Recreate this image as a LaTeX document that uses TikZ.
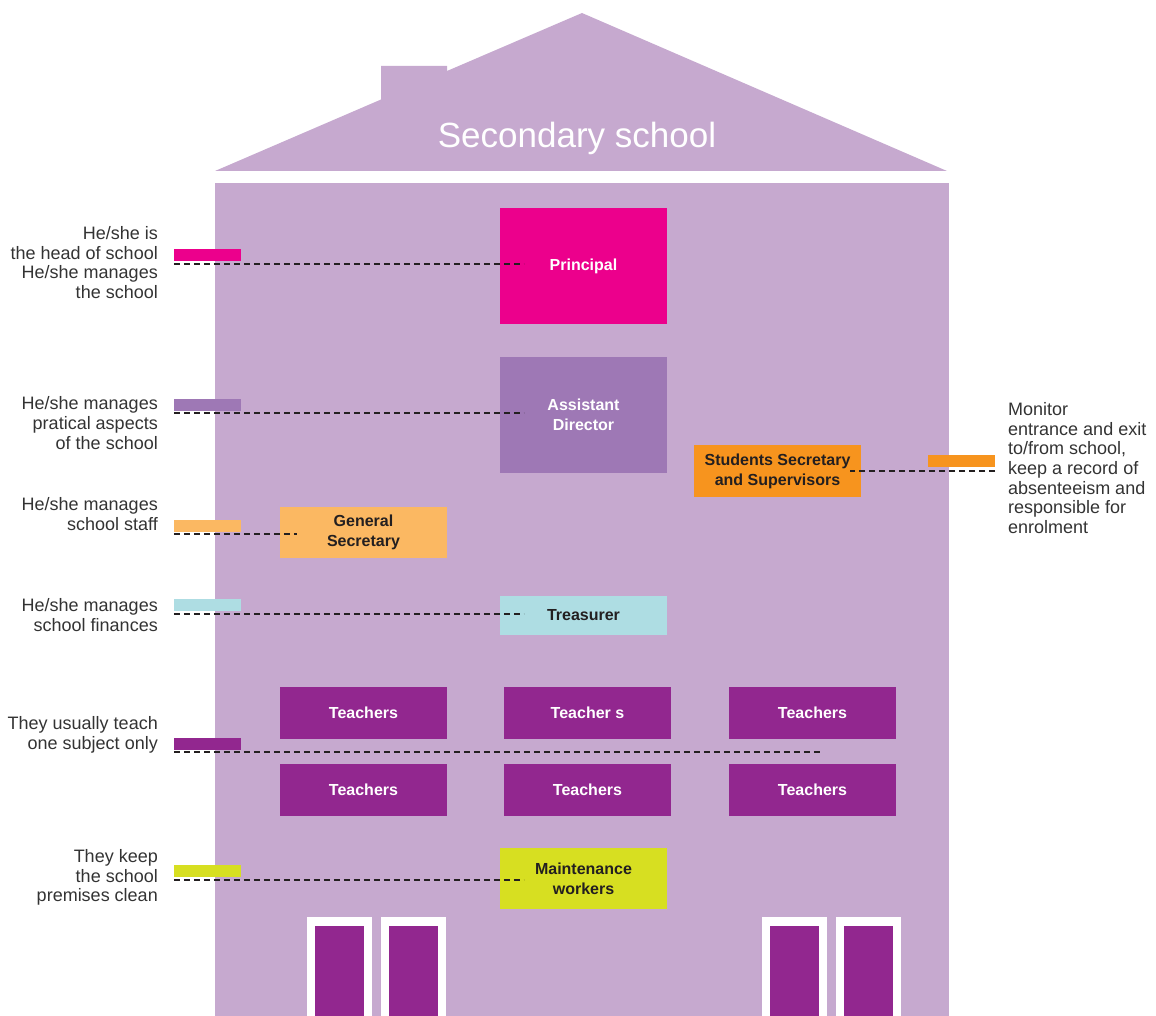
\documentclass[tikz,border=0pt]{standalone}
\usepackage{fontspec}
\setmainfont{Liberation Sans}
\usetikzlibrary{calc,positioning}

\definecolor{wall}{HTML}{C6A9CF}
\definecolor{ink}{HTML}{231F20}
\definecolor{notegray}{HTML}{333333}
\definecolor{principalc}{HTML}{EC008C}
\definecolor{assistantc}{HTML}{9E78B5}
\definecolor{studentsc}{HTML}{F7941E}
\definecolor{generalc}{HTML}{FBB862}
\definecolor{treasurerc}{HTML}{AEDDE3}
\definecolor{teacherc}{HTML}{92278F}
\definecolor{maintc}{HTML}{D7DF21}

\tikzset{
	office/.style={minimum width=167pt, inner sep=0pt, align=center, text=ink, font=\bfseries\fontsize{16}{20}\selectfont},
	tag/.style={minimum width=67pt, minimum height=12pt, inner sep=0pt},
	remark/.style={inner sep=0pt, text=notegray, font=\fontsize{18}{19.7}\selectfont},
	leader/.style={line width=1.5pt, color=ink, dash pattern=on 6pt off 4pt}
}

\begin{document}
\begin{tikzpicture}[x=1pt, y=-1pt]
			%%%%% START %%%%%
			\useasboundingbox (0,0) rectangle (1156,1016);
			
			% roof and chimney
			\fill[wall] (215,171) -- (381,99.5) -- (381,66) -- (447,66) -- (447,71) -- (582,13) -- (947,171) -- cycle;
			\node[anchor=base, text=white, font=\fontsize{35}{40}\selectfont] (title) at (577,148) {Secondary school};
			
			% building
			\fill[wall] (215,183) rectangle (949,1016);
			
			% doors
			\foreach \x in {307, 381, 762, 836} {
				\fill[white] (\x,917) rectangle (\x+65,1016);
				\fill[teacherc] (\x+8,926) rectangle (\x+57,1016);
			}
			
			% offices
			\node[office, fill=principalc, minimum height=116pt, text=white] (principal) at (583.5,266) {Principal};
			\node[office, fill=assistantc, minimum height=116pt, text=white] (assistant) at (583.5,415) {Assistant\\Director};
			\node[office, fill=studentsc, minimum height=52pt] (students) at (777.5,471) {Students Secretary\\and Supervisors};
			\node[office, fill=generalc, minimum height=51pt] (general) at (363.5,532.5) {General\\Secretary};
			\node[office, fill=treasurerc, minimum height=39pt] (treasurer) at (583.5,615.5) {Treasurer};
			\foreach \x/\n/\t in {363.5/1/Teachers, 587.5/2/Teacher s, 812.5/3/Teachers} {
				\node[office, fill=teacherc, minimum height=52pt, text=white] (teachA\n) at (\x,713) {\t};
				\node[office, fill=teacherc, minimum height=52pt, text=white] (teachB\n) at (\x,790) {Teachers};
			}
			\node[office, fill=maintc, minimum height=61pt] (maint) at (583.5,878.5) {Maintenance\\workers};
			
			% colour tags
			\node[tag, fill=principalc] (tPri) at (207.5,255) {};
			\node[tag, fill=assistantc] (tAss) at (207.5,405) {};
			\node[tag, fill=generalc] (tGen) at (207.5,526) {};
			\node[tag, fill=treasurerc] (tTre) at (207.5,605) {};
			\node[tag, fill=teacherc] (tTea) at (207.5,744) {};
			\node[tag, fill=maintc] (tMai) at (207.5,871) {};
			\node[tag, fill=studentsc] (tStu) at (961.5,461) {};
			
			% remarks
			\node[remark, anchor=east, align=right] (rPri) at (158,262.5) {He/she is\\the head of school\\He/she manages\\the school};
			\node[remark, anchor=east, align=right] (rAss) at (158,423) {He/she manages\\pratical aspects\\of the school};
			\node[remark, anchor=east, align=right] (rGen) at (158,514) {He/she manages\\school staff};
			\node[remark, anchor=east, align=right] (rTre) at (158,615) {He/she manages\\school finances};
			\node[remark, anchor=east, align=right] (rTea) at (158,734.5) {They usually teach\\one subject only};
			\node[remark, anchor=east, align=right] (rMai) at (158,877.5) {They keep\\the school\\premises clean};
			\node[remark, anchor=west, align=left] (rStu) at (1008,468) {Monitor\\entrance and exit\\to/from school,\\keep a record of\\absenteeism and\\responsible for\\enrolment};
			
			% leaders
			\draw[leader] ($(tPri.south west)+(0,3)$) -- ($(tPri.south west -| principal.west)+(24,3)$);
			\draw[leader] ($(tAss.south west)+(0,2)$) -- ($(tAss.south west -| assistant.west)+(24,2)$);
			\draw[leader] ($(tGen.south west)+(0,2)$) -- ($(tGen.south west -| general.west)+(17,2)$);
			\draw[leader] ($(tTre.south west)+(0,3)$) -- ($(tTre.south west -| treasurer.west)+(24,3)$);
			\draw[leader] ($(tTea.south west)+(0,2)$) -- ($(tTea.south west -| teachA3.west)+(91,2)$);
			\draw[leader] ($(tMai.south west)+(0,3)$) -- ($(tMai.south west -| maint.west)+(24,3)$);
			\draw[leader] ($(tStu.south east)+(0,4)$) -- ($(tStu.south east -| students.east)+(-11,4)$);
			
			%%%%% END %%%%%
\end{tikzpicture}
\end{document}
